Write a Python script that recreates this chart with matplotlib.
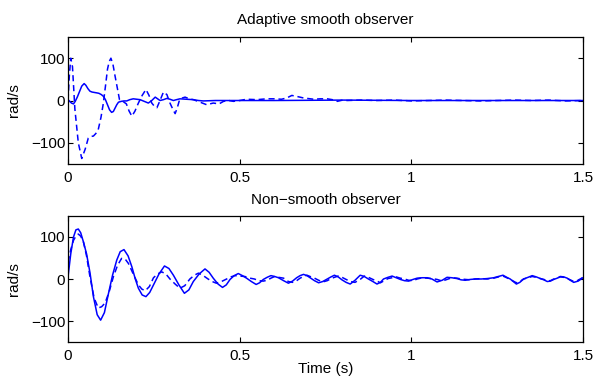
import numpy as np
import matplotlib.pyplot as plt

plt.rcParams['font.family'] = ['Liberation Sans', 'DejaVu Sans']

# --- Adaptive smooth observer ---
t_top_s = [0.0, 0.005, 0.01, 0.016, 0.021, 0.027, 0.033, 0.04, 0.047, 0.052, 0.058,
           0.064, 0.07, 0.077, 0.084, 0.09, 0.097, 0.103, 0.109, 0.115, 0.121, 0.127,
           0.132, 0.137, 0.142, 0.147, 0.155, 0.163, 0.171, 0.18, 0.19, 0.2, 0.21,
           0.222, 0.234, 0.244, 0.254, 0.261, 0.268, 0.278, 0.288, 0.297, 0.307,
           0.316, 0.326, 0.345, 0.365, 0.38, 0.394, 0.43, 0.462, 0.6, 0.8, 1.0, 1.2, 1.5]
w_top_s = [2, -2, -6, -8, -2, 8, 20, 34, 40, 36, 28,
           22, 20, 19, 18, 17, 14, 10, 2, -10, -22, -28,
           -26, -18, -10, -4, -2, -1, -1, 2, 4, 3, 2,
           -2, -6, 0, 8, 4, 0, 2, 5, 3, 0,
           2, 4, 3, 2, 0, -1, 0, 0, 0, 1, 0, 0, 0]

t_top_d = [0.0, 0.004, 0.008, 0.013, 0.02, 0.03, 0.04, 0.05, 0.059, 0.066, 0.074,
           0.081, 0.088, 0.096, 0.103, 0.11, 0.115, 0.12, 0.125, 0.131, 0.137, 0.144,
           0.15, 0.16, 0.17, 0.178, 0.186, 0.195, 0.205, 0.216, 0.227, 0.236, 0.244,
           0.252, 0.259, 0.268, 0.278, 0.288, 0.297, 0.305, 0.312, 0.318, 0.325, 0.333,
           0.341, 0.353, 0.365, 0.385, 0.404, 0.423, 0.44, 0.453, 0.468, 0.482, 0.5,
           0.52, 0.55, 0.579, 0.6, 0.622, 0.637, 0.652, 0.67, 0.686, 0.716, 0.735,
           0.755, 0.77, 0.784, 0.8, 0.813, 0.852, 0.9, 0.95, 1.0, 1.05, 1.1, 1.15,
           1.2, 1.25, 1.3, 1.35, 1.4, 1.45, 1.5]
w_top_d = [0, 60, 100, 80, -20, -100, -137, -115, -89, -85, -84,
           -78, -69, -40, -6, 40, 74, 92, 100, 85, 58, 28,
           2, -2, -8, -25, -37, -25, -6, 12, 26, 12, -6,
           -14, -17, 0, 20, 14, -6, -20, -31, -18, 2, 6,
           8, 4, 2, -4, -10, -6, -8, -2, 0, -2, 0,
           3, 2, 4, 4, 3, 6, 12, 9, 6, 3, 4,
           4, 2, -2, 1, 0, 1, 0, 1, -1, 0, 1, 0,
           -1, 0, 1, 0, 1, -1, 0]

# --- Non-smooth observer ---
t_bot_s = [0.0, 0.008, 0.016, 0.023, 0.03, 0.037, 0.045, 0.054, 0.064, 0.074, 0.085,
           0.095, 0.106, 0.118, 0.13, 0.142, 0.152, 0.163, 0.175, 0.186, 0.196, 0.205,
           0.216, 0.227, 0.238, 0.249, 0.265, 0.281, 0.294, 0.307, 0.323, 0.339, 0.352,
           0.365, 0.382, 0.399, 0.411, 0.423, 0.437, 0.45, 0.461, 0.472, 0.484, 0.496,
           0.508, 0.52, 0.534, 0.548, 0.558, 0.569, 0.58, 0.591, 0.602, 0.613, 0.628,
           0.642, 0.654, 0.666, 0.676, 0.686, 0.696, 0.705, 0.718, 0.73, 0.742, 0.755,
           0.766, 0.776, 0.787, 0.798, 0.81, 0.822, 0.836, 0.851, 0.863, 0.875, 0.888,
           0.9, 0.91, 0.919, 0.932, 0.944, 0.956, 0.968, 0.98, 0.992, 1.005, 1.017,
           1.032, 1.046, 1.06, 1.075, 1.09, 1.104, 1.118, 1.133, 1.145, 1.157, 1.172,
           1.186, 1.204, 1.221, 1.23, 1.24, 1.254, 1.267, 1.278, 1.288, 1.297, 1.306,
           1.316, 1.327, 1.34, 1.352, 1.364, 1.376, 1.386, 1.396, 1.405, 1.415, 1.425,
           1.434, 1.444, 1.454, 1.463, 1.473, 1.486, 1.5]
w_bot_s = [5, 60, 100, 117, 119, 110, 88, 60, 15, -42, -85,
           -98, -80, -34, 10, 45, 65, 70, 55, 29, 0, -22,
           -38, -42, -32, -14, 12, 31, 25, 9, -14, -34, -26,
           -6, 12, 24, 16, 2, -12, -20, -14, -1, 8, 13,
           8, 2, -6, -13, -9, -1, 4, 8, 6, 3, -4,
           -10, -5, 3, 8, 11, 8, 3, -4, -9, -6, 0,
           5, 9, 5, -2, -8, -12, -3, 9, 6, 0, -6,
           -12, -8, 0, 4, 7, 3, -1, -4, -5, -1, 2,
           3, 3, 0, -7, -3, 4, 3, 1, -2, -3, -1,
           0, 0, 1, 2, 3, 6, 9, 4, 0, -6, -12,
           -8, 0, 4, 8, 5, 1, -2, -6, -5, -1, 2,
           6, 5, 2, -3, -8, -5, 3]

t_bot_d = [0.0, 0.008, 0.016, 0.023, 0.03, 0.037, 0.045, 0.054, 0.064, 0.076, 0.088,
           0.098, 0.108, 0.12, 0.132, 0.144, 0.156, 0.166, 0.176, 0.19, 0.205, 0.215,
           0.225, 0.237, 0.249, 0.261, 0.273, 0.285, 0.297, 0.312, 0.326, 0.34, 0.355,
           0.368, 0.38, 0.394, 0.408, 0.42, 0.432, 0.447, 0.462, 0.474, 0.486, 0.5,
           0.515, 0.53, 0.543, 0.556, 0.569, 0.58, 0.591, 0.602, 0.613, 0.628, 0.642,
           0.654, 0.666, 0.676, 0.686, 0.696, 0.705, 0.718, 0.73, 0.742, 0.755, 0.766,
           0.776, 0.787, 0.798, 0.81, 0.822, 0.836, 0.851, 0.863, 0.875, 0.888, 0.9,
           0.91, 0.919, 0.932, 0.944, 0.956, 0.968, 0.98, 0.992, 1.005, 1.017, 1.032,
           1.046, 1.06, 1.075, 1.09, 1.104, 1.118, 1.133, 1.145, 1.157, 1.172, 1.186,
           1.204, 1.221, 1.23, 1.24, 1.254, 1.267, 1.278, 1.288, 1.297, 1.306, 1.316,
           1.327, 1.34, 1.352, 1.364, 1.376, 1.386, 1.396, 1.405, 1.415, 1.425, 1.434,
           1.444, 1.454, 1.463, 1.473, 1.486, 1.5]
w_bot_d = [40, 70, 92, 102, 107, 102, 88, 55, 5, -45, -69,
           -66, -57, -30, 5, 32, 49, 48, 37, 12, -14, -24,
           -28, -18, 3, 12, 17, 12, 0, -12, -22, -16, 0,
           9, 14, 8, 0, -6, -10, -6, 0, 5, 8, 7,
           6, 2, 0, -4, -5, -3, 2, 6, 4, 2, -6,
           -8, -4, 2, 6, 9, 6, 2, -3, -7, -4, 1,
           4, 7, 4, -1, -6, -8, -1, 7, 4, -1, -5,
           -9, -5, 1, 3, 5, 2, 0, -3, -4, 0, 3,
           2, 1, -1, -5, -1, 3, 2, 0, -1, -2, 0,
           1, 0, 1, 2, 5, 7, 3, -1, -5, -9, -6,
           0, 3, 6, 4, 1, -1, -4, -4, 0, 2, 5,
           4, 1, -2, -6, -3, 4]

y_ticks = [-100, 0, 100]
x_ticks = [0, 0.5, 1, 1.5]
x_tick_labels = ['0', '0.5', '1', '1.5']

fig = plt.figure(figsize=(5.95, 3.79), dpi=100)
ax1 = fig.add_axes([0.1143, 0.5673, 0.8655, 0.335])
ax2 = fig.add_axes([0.1143, 0.0976, 0.8655, 0.3325])

ax1.plot(t_top_s, w_top_s, '-', color='blue', lw=1.1)
ax1.plot(t_top_d, w_top_d, '--', color='blue', lw=1.1, dashes=(4, 2.5))
ax2.plot(t_bot_s, w_bot_s, '-', color='blue', lw=1.1)
ax2.plot(t_bot_d, w_bot_d, '--', color='blue', lw=1.1, dashes=(4, 2.5))

for ax in (ax1, ax2):
    ax.set_xlim(0, 1.5)
    ax.set_ylim(-150, 150)
    ax.set_xticks(x_ticks)
    ax.set_xticklabels(x_tick_labels)
    ax.set_yticks(y_ticks)
    ax.tick_params(direction='in', top=True, right=True, labelsize=11,
                   length=3.6, width=0.8)
    ax.tick_params(axis='x', pad=5)
    ax.tick_params(axis='y', pad=2)
    ax.set_ylabel('rad/s', fontsize=11, labelpad=7)
    for s in ax.spines.values():
        s.set_linewidth(0.9)

ax1.set_title('Adaptive smooth observer', fontsize=11, pad=9.5)
ax2.set_title('Non\u2212smooth observer', fontsize=11, pad=8.5)
ax2.set_xlabel('Time (s)', fontsize=11, labelpad=-1)

fig.savefig('out.png', dpi=100)
